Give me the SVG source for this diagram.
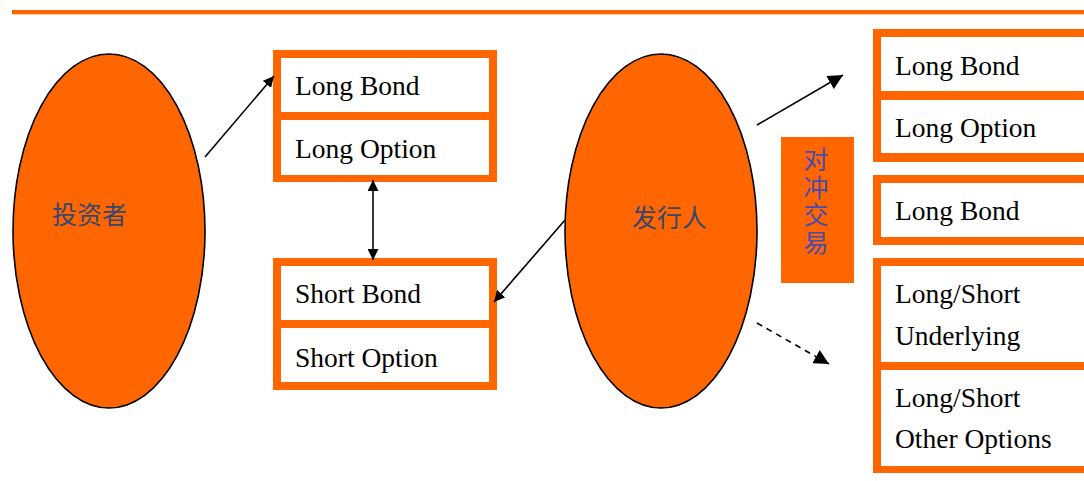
<svg xmlns="http://www.w3.org/2000/svg" width="1084" height="481" viewBox="0 0 1084 481">
<style>
.frame{fill:#FF6600}
.cell{fill:#FFFFFF}
.en{font-family:"Liberation Serif","Times New Roman",serif;font-size:27.5px;fill:#000}
.zh{font-family:"Noto Sans CJK SC","Noto Sans CJK JP",sans-serif;font-size:25px}
.ell{fill:#FF6600;stroke:#000;stroke-width:1.6}
.conn{stroke:#000;stroke-width:1.6;fill:none}
</style>
<defs>
<marker id="ah" viewBox="0 0 10 10" refX="10" refY="5" markerWidth="11" markerHeight="11" markerUnits="userSpaceOnUse" orient="auto-start-reverse">
<path d="M0,0 L10,5 L0,10 z" fill="#000"/>
</marker>
<marker id="ahL" viewBox="0 0 10 10" refX="10" refY="5" markerWidth="15" markerHeight="15" markerUnits="userSpaceOnUse" orient="auto-start-reverse">
<path d="M0,0 L10,5 L0,10 z" fill="#000"/>
</marker>
</defs>
<rect x="12" y="10" width="1072" height="4" fill="#FF6600"/>
<rect x="12" y="14" width="1072" height="1" fill="#FFC9A3"/>

<g id="investor">
<ellipse class="ell" cx="109" cy="231" rx="96" ry="177"/>
<text class="zh" x="52" y="224" fill="#37466E">投资者</text>
</g>

<g id="issuer">
<ellipse class="ell" cx="661" cy="231" rx="96" ry="177"/>
<text class="zh" x="632" y="227" fill="#37466E">发行人</text>
</g>

<g id="long-box">
<rect class="frame" x="273" y="50" width="224" height="132"/>
<rect class="cell" x="281" y="58" width="208" height="54"/>
<rect class="cell" x="281" y="120" width="208" height="55"/>
<text class="en" x="295" y="95">Long Bond</text>
<text class="en" x="295" y="158">Long Option</text>
</g>

<g id="short-box">
<rect class="frame" x="273" y="258" width="224" height="132"/>
<rect class="cell" x="281" y="266" width="208" height="54"/>
<rect class="cell" x="281" y="328" width="208" height="54"/>
<text class="en" x="295" y="303">Short Bond</text>
<text class="en" x="295" y="367">Short Option</text>
</g>

<g id="hedge-label">
<rect class="frame" x="781" y="137" width="73" height="146"/>
<text class="zh" x="816" y="147" fill="#4A4AB0" style="writing-mode:vertical-rl;letter-spacing:2.5px">对冲交易</text>
</g>

<g id="hedge-long">
<rect class="frame" x="873" y="29" width="230" height="133"/>
<rect class="cell" x="881" y="37" width="222" height="54"/>
<rect class="cell" x="881" y="100" width="222" height="53"/>
<text class="en" x="895" y="75">Long Bond</text>
<text class="en" x="895" y="137">Long Option</text>
</g>

<g id="hedge-bond">
<rect class="frame" x="873" y="175" width="230" height="70"/>
<rect class="cell" x="881" y="183" width="222" height="54"/>
<text class="en" x="895" y="220">Long Bond</text>
</g>

<g id="hedge-other">
<rect class="frame" x="873" y="258" width="230" height="215"/>
<rect class="cell" x="881" y="266" width="222" height="96"/>
<rect class="cell" x="881" y="370" width="222" height="96"/>
<text class="en" x="895" y="303">Long/Short</text>
<text class="en" x="895" y="345">Underlying</text>
<text class="en" x="895" y="407">Long/Short</text>
<text class="en" x="895" y="448">Other Options</text>
</g>

<g id="connectors">
<line class="conn" x1="205" y1="157" x2="274" y2="76" marker-end="url(#ah)"/>
<line class="conn" x1="373" y1="180" x2="373" y2="260" marker-start="url(#ah)" marker-end="url(#ah)"/>
<line class="conn" x1="565" y1="220" x2="494" y2="302" marker-end="url(#ah)"/>
<line class="conn" x1="757" y1="125" x2="843" y2="75" marker-end="url(#ahL)"/>
<line class="conn" x1="757" y1="323" x2="829" y2="364" stroke-dasharray="6,5" marker-end="url(#ahL)"/>
</g>
</svg>
